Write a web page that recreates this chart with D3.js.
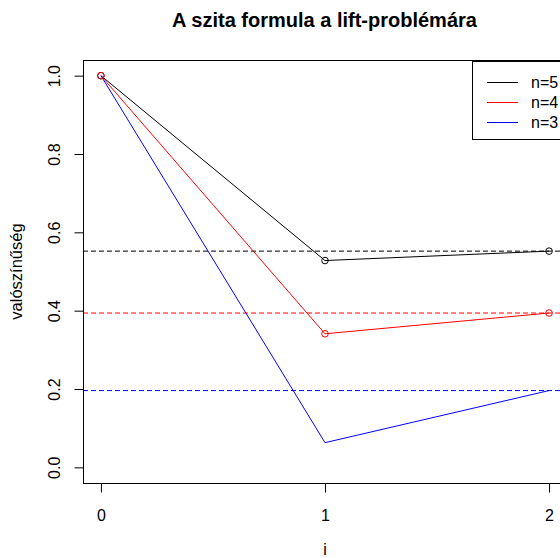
<!DOCTYPE html>
<html>
<head>
<meta charset="utf-8">
<script src="https://cdn.jsdelivr.net/npm/d3@7"></script>
<style>
  html, body { margin: 0; padding: 0; background: #fff; }
  svg { display: block; }
  text { font-family: "Liberation Sans", Arial, sans-serif; fill: #000; }
</style>
</head>
<body>
<svg id="chart" width="560" height="558"></svg>
<script>
// ---- data ----
const steps = [0, 1, 2];
const seriesNames = ["n=5", "n=4", "n=3"];
const seriesColors = ["#000000", "#ff0000", "#0000ff"];
const valuesN5 = [1.0, 0.528, 0.552];
const valuesN4 = [1.0, 0.341, 0.394];
const valuesN3 = [1.0, 0.063, 0.196];
const limitValues = [0.552, 0.394, 0.196];
const showPoints = [true, true, false];
const xTicks = [0, 1, 2];
const yTicks = [0.0, 0.2, 0.4, 0.6, 0.8, 1.0];
const titleText = "A szita formula a lift-problémára";
const xLabel = "i";
const yLabel = "valószínűség";

const series = seriesNames.map((name, k) => ({
  name, color: seriesColors[k], limit: limitValues[k], points: showPoints[k],
  values: [valuesN5, valuesN4, valuesN3][k]
}));

// ---- layout ----
const svg = d3.select("#chart");
const box = { left: 83, right: 567, top: 60, bottom: 483 };
const fontSize = 16;

const x = d3.scaleLinear().domain([-0.08, 2.08]).range([box.left, box.right]);
const y = d3.scaleLinear().domain([-0.04, 1.04]).range([box.bottom, box.top]);

svg.append("defs").append("clipPath").attr("id", "plotclip")
  .append("rect").attr("x", box.left).attr("y", box.top)
  .attr("width", box.right - box.left).attr("height", box.bottom - box.top);

const plot = svg.append("g").attr("clip-path", "url(#plotclip)");

// dashed limit lines
series.forEach(s => {
  plot.append("line")
    .attr("x1", box.left).attr("x2", box.right)
    .attr("y1", y(s.limit)).attr("y2", y(s.limit))
    .attr("stroke", s.color).attr("stroke-width", 1)
    .attr("stroke-dasharray", "5,3");
});

// series lines
const line = d3.line().x((d, i) => x(steps[i])).y(d => y(d));
series.forEach(s => {
  plot.append("path").datum(s.values)
    .attr("d", line).attr("fill", "none")
    .attr("stroke", s.color).attr("stroke-width", 1);
});
// points
series.forEach(s => {
  if (!s.points) return;
  plot.selectAll(null).data(s.values).enter().append("circle")
    .attr("cx", (d, i) => x(steps[i])).attr("cy", d => y(d)).attr("r", 3.3)
    .attr("fill", "none").attr("stroke", s.color).attr("stroke-width", 1);
});

// box
svg.append("rect").attr("x", box.left + 0.5).attr("y", box.top + 0.5)
  .attr("width", box.right - box.left).attr("height", box.bottom - box.top)
  .attr("fill", "none").attr("stroke", "#000").attr("stroke-width", 1);

// x axis
const xAxis = d3.axisBottom(x).tickValues(xTicks).tickFormat(d3.format("d"))
  .tickSize(9).tickPadding(17);
const gx = svg.append("g").attr("transform", `translate(0,${box.bottom + 0.5})`).call(xAxis);
gx.select(".domain").attr("d", `M${x(xTicks[0])},0H${x(xTicks[xTicks.length-1])}`);
gx.selectAll("text").style("font-size", fontSize + "px").style("font-family", "Liberation Sans, Arial, sans-serif").attr("fill", "#000");

// y axis
const yAxis = d3.axisLeft(y).tickValues(yTicks).tickFormat(d3.format(".1f"))
  .tickSize(9).tickPadding(0);
const gy = svg.append("g").attr("transform", `translate(${box.left + 0.5},0)`).call(yAxis);
gy.select(".domain").attr("d", `M0,${y(yTicks[0])}V${y(yTicks[yTicks.length-1])}`);
gy.selectAll(".tick text")
  .style("font-size", fontSize + "px").style("font-family", "Liberation Sans, Arial, sans-serif")
  .attr("fill", "#000")
  .attr("x", 0).attr("dy", null)
  .attr("text-anchor", "middle")
  .attr("transform", "translate(-28,0) rotate(-90)")
  .attr("y", 0).attr("dominant-baseline", "middle");

// title
svg.append("text").attr("x", (box.left + box.right) / 2 - 0.5).attr("y", 27)
  .attr("text-anchor", "middle").style("font-size", "20px").style("font-weight", "bold")
  .text(titleText);

// axis labels
svg.append("text").attr("x", (box.left + box.right) / 2).attr("y", 555)
  .attr("text-anchor", "middle").style("font-size", fontSize + "px").text(xLabel);
svg.append("text")
  .attr("transform", `translate(22,${(box.top + box.bottom) / 2}) rotate(-90)`)
  .attr("text-anchor", "middle").style("font-size", "16.5px").text(yLabel);

// legend
const lg = { left: 472, top: 61, bottom: 139 };
svg.append("rect").attr("x", lg.left + 0.5).attr("y", lg.top + 0.5)
  .attr("width", box.right - lg.left).attr("height", lg.bottom - lg.top)
  .attr("fill", "#fff").attr("stroke", "#000").attr("stroke-width", 1);
const legendY = d3.scalePoint().domain(seriesNames).range([82.5, 122.5]);
series.forEach(s => {
  const yy = legendY(s.name);
  svg.append("line").attr("x1", 487).attr("x2", 518).attr("y1", yy).attr("y2", yy)
    .attr("stroke", s.color).attr("stroke-width", 1);
  svg.append("text").attr("x", 531).attr("y", yy).attr("dy", "0.35em")
    .style("font-size", fontSize + "px").text(s.name);
});
</script>
</body>
</html>
